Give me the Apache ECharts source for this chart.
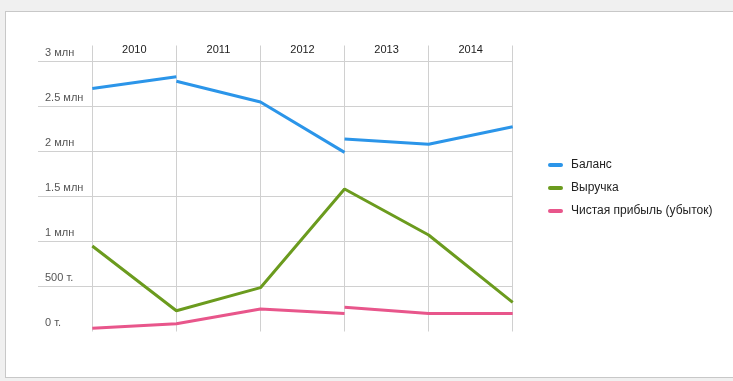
<!DOCTYPE html>
<html><head><meta charset="utf-8">
<script src="https://cdn.jsdelivr.net/npm/echarts@6/dist/echarts.min.js"></script>
<style>
html,body{margin:0;padding:0;background:#f0f0f0;width:733px;height:381px;overflow:hidden;}
#panel{position:absolute;left:5px;top:11px;width:740px;height:365px;background:#fff;border:1px solid #c8c8c8;border-right:none;}
#chart{position:absolute;left:0;top:0;width:733px;height:381px;}
</style></head>
<body>
<div id="panel"></div>
<div id="chart"></div>
<script>
const years = ['2010','2011','2012','2013','2014'];
const yTicks = [0, 500000, 1000000, 1500000, 2000000, 2500000, 3000000];
// value at start and end of each year
const balanceStart = [2700000, 2780000, 2550000, 2140000, 2080000];
const balanceEnd   = [2830000, 2550000, 1990000, 2080000, 2275000];
const revenueStart = [950000, 230000, 487000, 1583000, 1072000];
const revenueEnd   = [230000, 487000, 1583000, 1072000, 324000];
const profitStart  = [35000, 87000, 250000, 270000, 200000];
const profitEnd    = [87000, 250000, 200000, 200000, 200000];
const names = ['Баланс','Выручка','Чистая прибыль (убыток)'];
const colors = ['#2b95e9','#6b9b1e','#e8568b'];

function build(st, en){
  const out = [];
  for(let i=0;i<st.length;i++){
    if(i===0 || st[i]!==en[i-1]){
      if(i>0) out.push([i,'-']);
      out.push([i, st[i]]);
    }
    out.push([i+1, en[i]]);
  }
  return out;
}
const chart = echarts.init(document.getElementById('chart'));
const font = 'Arial, "Liberation Sans", sans-serif';
const L = 92.3, R = 733-512.7, T = 61.5, B = 381-331.5;
chart.setOption({
  animation:false,
  textStyle:{fontFamily:font},
  grid:[
    {left:L, right:R, top:T, bottom:B},
    {left:38, right:R, top:T, bottom:B},
    {left:L, right:R, top:45.5, bottom:B}
  ],
  xAxis:[
    {gridIndex:0, type:'value', min:0, max:years.length, show:false},
    {gridIndex:1, type:'value', min:0, max:1, show:false},
    {gridIndex:2, type:'category', data:years, position:'top', boundaryGap:true,
     axisLine:{show:false}, axisTick:{show:false},
     axisLabel:{inside:true, margin:4, verticalAlign:'middle', color:'#222', fontSize:11, fontFamily:font},
     splitLine:{show:true, lineStyle:{color:'#d0d0d0', width:1}}}
  ],
  yAxis:[
    {gridIndex:0, type:'value', min:0, max:yTicks[yTicks.length-1], interval:500000, show:false},
    {gridIndex:1, type:'value', min:0, max:yTicks[yTicks.length-1], interval:500000,
     axisLine:{show:false}, axisTick:{show:false},
     splitLine:{show:true, showMinLine:false, lineStyle:{color:'#d0d0d0', width:1}},
     axisLabel:{inside:true, margin:7, align:'left', verticalAlign:'bottom', padding:[0,0,3,0],
       color:'#555', fontSize:11, fontFamily:font,
       formatter:v=> v>=1000000 ? (v/1000000)+' млн' : (v/1000)+' т.'}},
    {gridIndex:2, type:'value', show:false}
  ],
  legend:{
    orient:'vertical', left:548, top:159, padding:0, itemGap:11, itemWidth:15, itemHeight:4,
    icon:'path://M2,0 L13,0 A2,2 0 0 1 13,4 L2,4 A2,2 0 0 1 2,0 Z',
    textStyle:{color:'#222', fontSize:12, fontFamily:font, padding:[0,0,0,3]},
    data:names
  },
  series:[
    {name:names[0], type:'line', xAxisIndex:0, yAxisIndex:0, data:build(balanceStart,balanceEnd), showSymbol:false, symbol:'none', lineStyle:{width:3, color:colors[0]}, itemStyle:{color:colors[0]}, connectNulls:false},
    {name:names[1], type:'line', xAxisIndex:0, yAxisIndex:0, data:build(revenueStart,revenueEnd), showSymbol:false, symbol:'none', lineStyle:{width:3, color:colors[1]}, itemStyle:{color:colors[1]}, connectNulls:false},
    {name:names[2], type:'line', xAxisIndex:0, yAxisIndex:0, data:build(profitStart,profitEnd), showSymbol:false, symbol:'none', lineStyle:{width:3, color:colors[2]}, itemStyle:{color:colors[2]}, connectNulls:false}
  ]
});
</script>
</body></html>
